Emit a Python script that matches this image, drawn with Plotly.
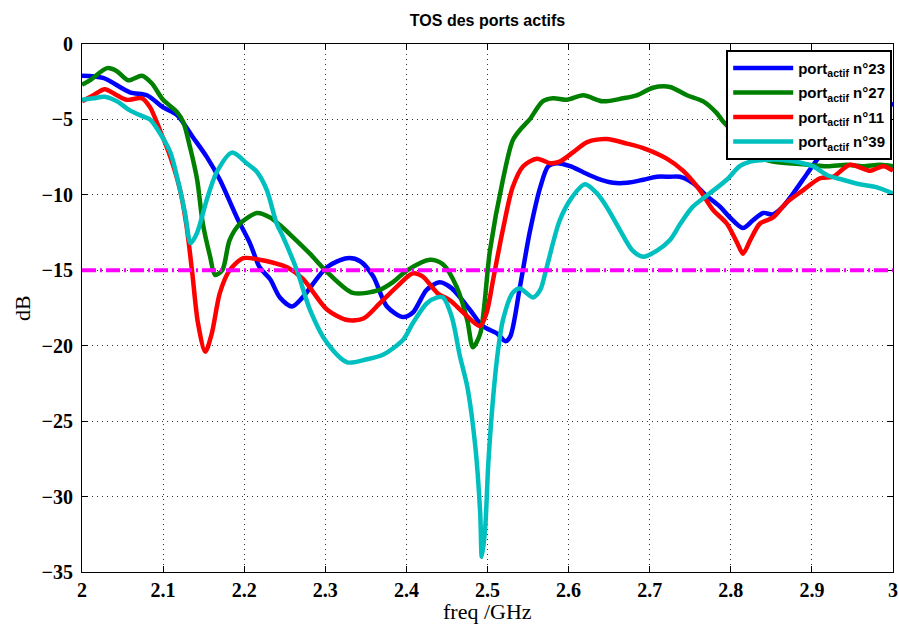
import plotly.graph_objects as go

# Active port return loss (TOS)
freq_23 = [2.000, 2.026, 2.059, 2.080, 2.100, 2.117, 2.137, 2.154, 2.170, 2.191, 2.207, 2.219,
           2.232, 2.244, 2.259, 2.272, 2.302, 2.327, 2.343, 2.359, 2.376, 2.396, 2.408, 2.425,
           2.441, 2.456, 2.478, 2.494, 2.512, 2.522, 2.528, 2.540, 2.552, 2.565, 2.575, 2.586,
           2.602, 2.618, 2.635, 2.655, 2.672, 2.692, 2.709, 2.725, 2.737, 2.753, 2.771, 2.787,
           2.799, 2.815, 2.827, 2.840, 2.852, 2.864, 2.877, 2.894, 2.906, 2.930, 2.960, 2.980, 3.000]
db_23 = [-2.1, -2.25, -3.2, -3.4, -4.2, -4.7, -6.2, -7.5, -9.0, -11.5, -13.2, -14.8,
         -15.6, -16.8, -17.4, -16.8, -14.8, -14.2, -14.4, -15.4, -17.4, -18.1, -17.8, -16.3,
         -15.8, -16.2, -17.6, -18.7, -19.2, -19.7, -19.4, -16.1, -12.5, -9.5, -8.1, -7.9,
         -8.1, -8.5, -8.9, -9.2, -9.2, -9.0, -8.8, -8.8, -8.8, -9.2, -10.1, -10.8,
         -11.5, -12.2, -11.7, -11.2, -11.3, -10.8, -9.9, -8.6, -7.7, -6.0, -4.6, -4.1, -4.0]

freq_27 = [2.000, 2.010, 2.031, 2.043, 2.057, 2.074, 2.086, 2.100, 2.117, 2.125, 2.133, 2.142,
           2.149, 2.158, 2.164, 2.173, 2.182, 2.195, 2.216, 2.232, 2.244, 2.260, 2.281, 2.302,
           2.334, 2.367, 2.383, 2.401, 2.429, 2.445, 2.462, 2.475, 2.482, 2.491, 2.503, 2.519,
           2.531, 2.540, 2.552, 2.568, 2.581, 2.598, 2.618, 2.642, 2.667, 2.684, 2.704, 2.725,
           2.746, 2.766, 2.783, 2.790, 2.810, 2.830, 2.852, 2.885, 2.919, 2.943, 2.963, 2.984, 3.000]
db_27 = [-2.7, -2.4, -1.6, -1.8, -2.4, -2.1, -2.6, -3.7, -4.5, -5.2, -6.8, -9.0,
         -11.9, -14.1, -15.3, -15.0, -13.0, -11.9, -11.2, -11.5, -12.0, -12.8, -13.9, -15.1,
         -16.5, -16.3, -15.8, -15.0, -14.3, -14.6, -16.1, -18.3, -20.1, -19.2, -13.7, -9.0,
         -6.4, -5.7, -5.0, -3.8, -3.6, -3.7, -3.4, -3.8, -3.6, -3.4, -2.9, -2.85,
         -3.4, -3.8, -4.6, -5.1, -6.2, -7.3, -7.8, -7.95, -8.1, -8.0, -8.1, -8.0, -8.1]

freq_11 = [2.000, 2.014, 2.028, 2.043, 2.055, 2.074, 2.084, 2.096, 2.109, 2.121, 2.129, 2.136,
           2.143, 2.152, 2.160, 2.170, 2.182, 2.199, 2.219, 2.236, 2.253, 2.273, 2.302, 2.327,
           2.347, 2.367, 2.388, 2.408, 2.420, 2.438, 2.454, 2.470, 2.491, 2.499, 2.507, 2.519,
           2.531, 2.544, 2.561, 2.577, 2.589, 2.605, 2.623, 2.647, 2.672, 2.692, 2.721, 2.741,
           2.762, 2.778, 2.795, 2.808, 2.815, 2.824, 2.836, 2.852, 2.869, 2.889, 2.910, 2.926,
           2.947, 2.972, 2.988, 3.000]
db_11 = [-3.8, -3.4, -3.0, -3.4, -3.7, -3.6, -4.2, -5.7, -7.5, -9.7, -12.1, -15.2,
         -18.5, -20.4, -19.2, -16.5, -15.0, -14.2, -14.3, -14.5, -14.8, -15.6, -17.6, -18.3,
         -18.2, -17.2, -16.1, -15.2, -15.4, -16.5, -17.0, -17.8, -18.7, -17.8, -15.6, -12.3,
         -9.5, -8.1, -7.6, -7.9, -7.8, -7.2, -6.5, -6.3, -6.6, -6.9, -7.6, -8.4,
         -9.7, -11.0, -11.9, -13.2, -13.9, -13.0, -11.9, -11.5, -10.5, -9.7, -8.9, -8.8,
         -8.0, -8.4, -8.1, -8.4]

freq_39 = [2.000, 2.014, 2.028, 2.043, 2.059, 2.075, 2.084, 2.096, 2.109, 2.118, 2.127, 2.134,
           2.142, 2.154, 2.166, 2.185, 2.203, 2.216, 2.228, 2.240, 2.248, 2.265, 2.281, 2.302,
           2.327, 2.351, 2.371, 2.396, 2.408, 2.425, 2.438, 2.445, 2.456, 2.466, 2.475, 2.485,
           2.491, 2.493, 2.497, 2.501, 2.507, 2.513, 2.519, 2.531, 2.540, 2.556, 2.565, 2.573,
           2.589, 2.605, 2.620, 2.635, 2.647, 2.663, 2.679, 2.692, 2.709, 2.725, 2.738, 2.753,
           2.774, 2.795, 2.811, 2.824, 2.836, 2.867, 2.901, 2.919, 2.938, 2.959, 2.980, 3.000]
db_39 = [-3.7, -3.6, -3.5, -3.8, -4.4, -4.8, -5.0, -5.9, -7.2, -9.0, -11.2, -13.2,
         -12.5, -10.3, -8.5, -7.2, -7.9, -8.5, -9.7, -11.9, -12.8, -15.0, -17.6, -19.8,
         -21.1, -20.9, -20.6, -19.6, -18.5, -17.2, -16.8, -16.8, -18.1, -20.7, -22.7, -26.7,
         -31.1, -34.0, -32.2, -27.8, -23.4, -20.3, -18.3, -16.5, -16.2, -16.8, -16.3, -14.8,
         -11.7, -10.1, -9.3, -9.9, -10.8, -12.3, -13.7, -14.1, -13.7, -13.0, -11.9, -10.8,
         -9.9, -9.0, -8.1, -7.8, -7.7, -7.7, -8.1, -8.7, -9.0, -9.3, -9.5, -9.9]

THRESHOLD_DB = -15

series = [
    ("port<sub>actif</sub> n°23", freq_23, db_23, "#0000FF"),
    ("port<sub>actif</sub> n°27", freq_27, db_27, "#008000"),
    ("port<sub>actif</sub> n°11", freq_11, db_11, "#FF0000"),
    ("port<sub>actif</sub> n°39", freq_39, db_39, "#00BFBF"),
]

fig = go.Figure()
for name, fx, fy, color in series:
    fig.add_trace(go.Scatter(
        x=fx, y=fy, name=name, mode="lines", legendgroup=name,
        line=dict(color=color, width=4.5, shape="spline", smoothing=0.8),
    ))

# -15 dB target (magenta dash-dot)
fig.add_hline(y=THRESHOLD_DB, line=dict(color="#FF00FF", width=4, dash="14px,4px,2px,4px"))

serif = "Liberation Serif"
axis_style = dict(
    showline=True, linecolor="black", linewidth=1, mirror="ticks",
    ticks="inside", ticklen=6, tickcolor="black",
    showgrid=True, gridcolor="#333333", gridwidth=1, griddash="1px,4px",
    zeroline=False, automargin=False, ticklabeloverflow="allow",
    tickfont=dict(family=serif, size=20, color="black", weight="bold"),
)

fig.update_xaxes(range=[2, 3], dtick=0.1, tick0=2, **axis_style)
fig.update_yaxes(range=[-35, 0], dtick=5, ticklabelstandoff=4, **axis_style)

# axis titles placed by hand so the plot box stays where the reference has it
fig.add_annotation(text="freq /GHz", x=0.5, xref="paper", y=-0.074, yref="paper",
                   yanchor="middle", showarrow=False,
                   font=dict(family=serif, size=22, color="black"))
fig.add_annotation(text="dB", x=-0.074, xref="paper", y=0.5, yref="paper",
                   xanchor="center", textangle=-90, showarrow=False,
                   font=dict(family=serif, size=22, color="black"))

fig.update_layout(
    width=899, height=628,
    margin=dict(l=82, r=6, t=44, b=56),
    paper_bgcolor="white", plot_bgcolor="white",
    title=dict(text="TOS des ports actifs", x=0.5, xref="paper", y=0.968, yanchor="middle",
               font=dict(family="Liberation Sans", size=16, color="black", weight="bold")),
    legend=dict(
        x=0.999, y=0.989, xanchor="right", yanchor="top",
        bgcolor="white", bordercolor="black", borderwidth=2,
        font=dict(family="Liberation Sans", size=15, color="black", weight="bold"),
        itemwidth=60, traceorder="grouped", tracegroupgap=2,
    ),
)

# drop the default page margin so the figure sits flush in the window
fig.write_html("out.html", config={"displayModeBar": False},
               post_script="document.body.style.margin='0';document.body.style.overflow='hidden';")
